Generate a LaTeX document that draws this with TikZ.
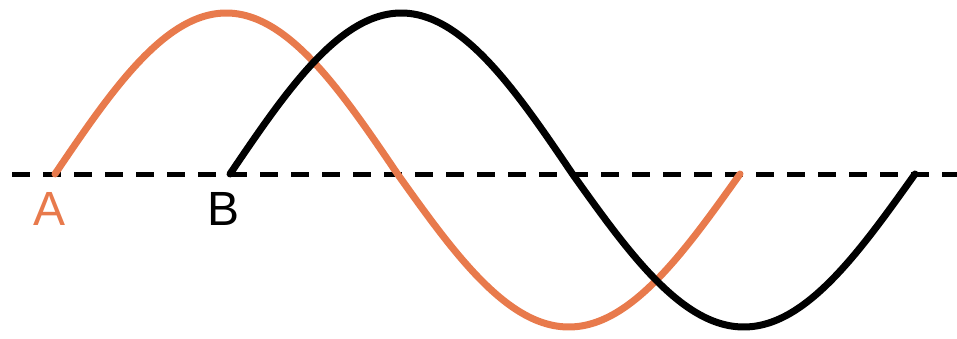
\documentclass[tikz,border=0pt]{standalone}
\usepackage{fontspec}
\setmainfont{Liberation Sans}
\definecolor{wave}{HTML}{E87A4C}
\begin{document}
\begin{tikzpicture}[x=1pt,y=-1pt,
  wavestyle/.style={line width=7pt,line cap=round,line join=round},
  lbl/.style={font=\fontsize{48}{48}\selectfont,inner sep=0pt,anchor=center}]
\useasboundingbox (0,0) rectangle (957,339);
\coordinate (d0) at (12,174);
\coordinate (d1) at (957,174);
\draw[line width=5pt,dash pattern=on 18pt off 13pt] (d0) -- (d1);
\draw[wavestyle,wave] plot[domain=55:740,samples=240,smooth]
  (\x,{174-sin(0.525547*(\x-55))*(157+4*sign(sin(0.525547*(\x-55))))});
\draw[wavestyle,black] plot[domain=230:915,samples=240,smooth]
  (\x,{174-sin(0.525547*(\x-230))*(157+4*sign(sin(0.525547*(\x-230))))});
\node[lbl,text=wave] (A) at (50,209) {A};
\node[lbl,text=black] (B) at (224,209) {B};
\end{tikzpicture}
\end{document}
